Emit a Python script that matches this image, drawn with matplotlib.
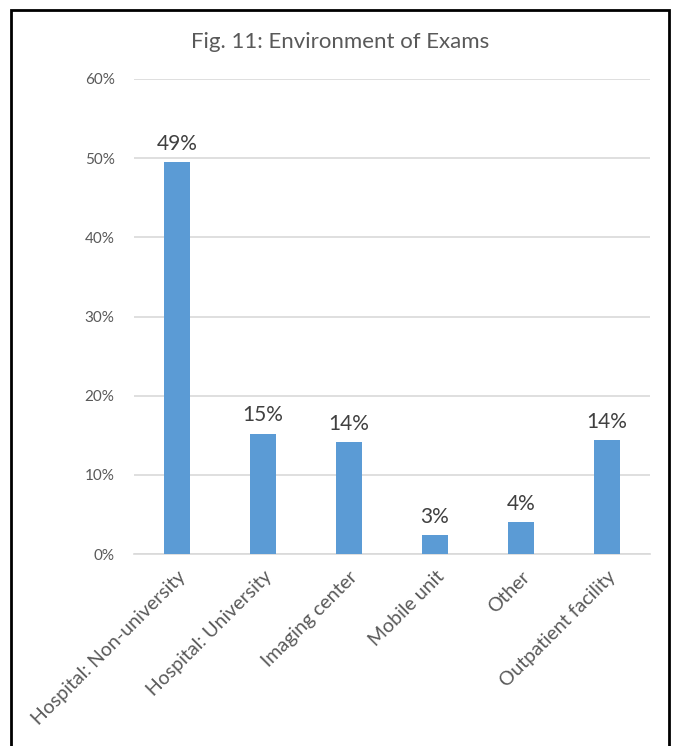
import matplotlib.pyplot as plt
from matplotlib.patches import Rectangle

plt.rcParams['font.family'] = ['Lato', 'DejaVu Sans']

categories = ["Hospital: Non-university", "Hospital: University", "Imaging center",
              "Mobile unit", "Other", "Outpatient facility"]
values = [49.5, 15.2, 14.1, 2.4, 4.0, 14.4]
labels = ["49%", "15%", "14%", "3%", "4%", "14%"]
yticks = [0, 10, 20, 30, 40, 50, 60]

fig = plt.figure(figsize=(6.75, 7.46), dpi=100)
ax = fig.add_axes([134/675, 1-554/746, 516/675, 475/746])

x = range(len(categories))
bars = ax.bar(x, values, width=0.31, color="#5B9BD5", zorder=3)

for b, lab in zip(bars, labels):
    ax.annotate(lab, (b.get_x() + b.get_width()/2, b.get_height()),
                xytext=(0, 6), textcoords="offset points",
                ha="center", va="bottom", fontsize=15, color="#404040")

ax.set_xlim(-0.5, len(categories) - 0.5)
ax.set_ylim(0, 60)
ax.set_yticks(yticks)
ax.set_yticklabels([f"{t}%" for t in yticks])
ax.set_xticks(list(x))
ax.set_xticklabels(categories, rotation=45, ha="right", rotation_mode="anchor")

ax.grid(axis="y", color="#D9D9D9", linewidth=1.2, zorder=0)
for s in ["top", "right", "left"]:
    ax.spines[s].set_visible(False)
ax.spines["bottom"].set_color("#D9D9D9")
ax.spines["bottom"].set_linewidth(1.2)
ax.tick_params(axis="y", length=0, pad=14, labelsize=11, labelcolor="#595959")
ax.tick_params(axis="x", length=0, pad=10, labelsize=14, labelcolor="#595959")

fig.text(340/675, 1-42/746, "Fig. 11: Environment of Exams", ha="center", va="center",
         fontsize=16, color="#595959")

fig.patches.append(Rectangle((11/675, -0.05), 658/675, 1 - 10/746 + 0.05,
                             transform=fig.transFigure, fill=False,
                             edgecolor="black", linewidth=2))

fig.savefig("out.png", dpi=100)
